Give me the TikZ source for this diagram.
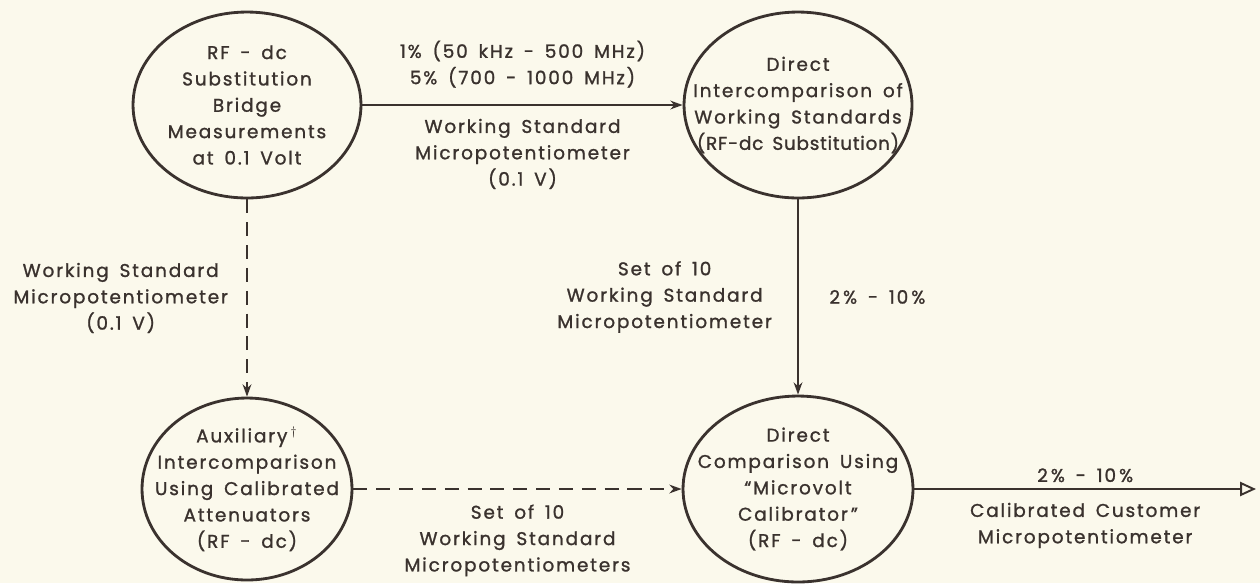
\documentclass[tikz,border=0pt]{standalone}
\usepackage{fontspec}
\setmainfont{Poppins}[LetterSpace=10, WordSpace=1.6, FakeBold=1.2]
\usepackage{xcolor}
\usetikzlibrary{shapes.geometric,arrows.meta}
\definecolor{ink}{RGB}{58,50,46}
\definecolor{paper}{RGB}{251,249,236}

\begin{document}
\begin{tikzpicture}[x=0.02cm, y=-0.02cm,
  every node/.style={text=ink},
  stage/.style={ellipse, draw=ink, line width=1.6pt, minimum width=4.56cm,
    minimum height=3.72cm, inner sep=0pt},
  txt/.style={align=center, font=\fontsize{10.5}{15}\selectfont},
  link/.style={draw=ink, line width=1.1pt, -{Stealth[length=7pt,width=5pt]}},
  aux/.style={link, dash pattern=on 8pt off 5pt}]
\fill[paper] (0,0) rectangle (1260,583);
\useasboundingbox (0,0) rectangle (1260,583);

\node[stage, label={[txt]center:{RF - dc\\Substitution\\Bridge\\Measurements\\at 0.1 Volt}}] (bridge) at (247,105) {};
\node[stage, label={[txt]center:{Direct\\Intercomparison of\\Working Standards\\{\addfontfeatures{LetterSpace=4}(RF-dc Substitution)}}}] (inter) at (798,105) {};
\node[stage, minimum width=4.2cm, minimum height=3.64cm, label={[txt]center:{Auxiliary\,$^{\dagger}$\\Intercomparison\\Using Calibrated\\Attenuators\\(RF - dc)}}] (attn) at (247,489) {};
\node[stage, minimum width=4.6cm, label={[txt]center:{Direct\\Comparison Using\\``Microvolt\\Calibrator\,''\\(RF - dc)}}] (micro) at (798,489) {};
\coordinate (cust) at (1256,489);

\draw[link] (bridge) -- (inter)
  node[txt, midway, above=6pt] {1\% (50 kHz - 500 MHz)\\5\% (700 - 1000 MHz)}
  node[txt, midway, below=4pt] {Working Standard\\Micropotentiometer\\(0.1 V)};
\draw[aux] (bridge) -- (attn)
  node[txt, midway, left=7pt] {Working Standard\\Micropotentiometer\\(0.1 V)};
\draw[link] (inter) -- (micro)
  node[txt, midway, left=11pt] {Set of 10\\Working Standard\\Micropotentiometer}
  node[txt, midway, right=14pt] {2\,\% - 10\,\%};
\draw[aux] (attn) -- (micro)
  node[txt, midway, below=5pt] {Set of 10\\Working Standard\\Micropotentiometers};
\draw[link, -{Triangle[open,length=9pt,width=8pt]}] (micro) -- (cust)
  node[txt, midway, above=0pt] {2\,\% - 10\,\%}
  node[txt, midway, below=4pt] {Calibrated Customer\\Micropotentiometer};
\end{tikzpicture}
\end{document}
